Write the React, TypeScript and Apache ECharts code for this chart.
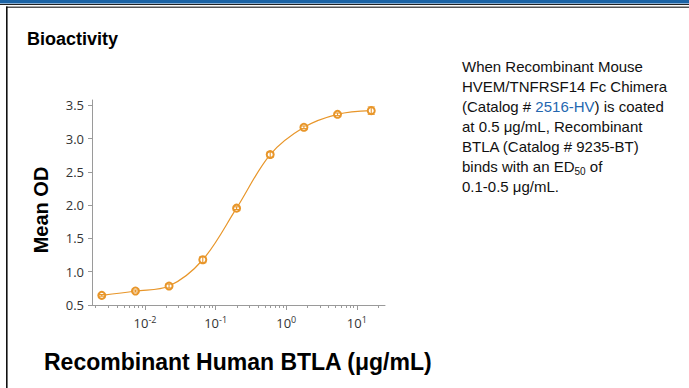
import React, { useEffect, useRef } from "react";
import * as echarts from "echarts";

const concentrations = [0.00244, 0.00732, 0.0219, 0.0658, 0.198, 0.593, 1.78, 5.33, 16.0];
const meanOD = [0.645, 0.71, 0.785, 1.18, 1.955, 2.76, 3.17, 3.365, 3.42];
const errOD = [0.012, 0.015, 0.03, 0.045, 0.02, 0.04, 0.02, 0.02, 0.055];

const yTicks = [0.5, 1.0, 1.5, 2.0, 2.5, 3.0, 3.5];
const xMajorTicks = [0.01, 0.1, 1, 10];
const xMinorTicks = [
  0.002, 0.003, 0.004, 0.005, 0.006, 0.007, 0.008, 0.009,
  0.01, 0.02, 0.03, 0.04, 0.05, 0.06, 0.07, 0.08, 0.09,
  0.1, 0.2, 0.3, 0.4, 0.5, 0.6, 0.7, 0.8, 0.9,
  1, 2, 3, 4, 5, 6, 7, 8, 9,
  10, 20,
];

const descLines = [
  "When Recombinant Mouse",
  "HVEM/TNFRSF14 Fc Chimera",
  "(Catalog # {link|2516-HV}) is coated",
  "at 0.5 μg/mL, Recombinant",
  "BTLA (Catalog # 9235-BT)",
  "binds with an ED{sub|50} of",
  "0.1-0.5 μg/mL.",
];

const ORANGE = "#E8962A";
const TICK_FONT = '"Open Sans", "Noto Sans", sans-serif';
const ARIAL = '"Liberation Sans", Arial, sans-serif';

export default function App() {
  const ref = useRef<HTMLDivElement>(null);
  useEffect(() => {
    if (!ref.current) return;
    const chart = echarts.init(ref.current, null, { renderer: "svg" });
    const xMin = 0.001774;
    const xMax = 25.06;

    const graphics: any[] = [
      { type: "rect", shape: { x: 0, y: 0, width: 689, height: 3.5 }, style: { fill: "#1B63A5" } },
      { type: "rect", shape: { x: 0, y: 4, width: 689, height: 1 }, style: { fill: "#222" } },
      { type: "rect", shape: { x: 6, y: 6.5, width: 683, height: 1.5 }, style: { fill: "#555" } },
      { type: "rect", shape: { x: 6, y: 6.5, width: 1.6, height: 382 }, style: { fill: "#111" } },
      {
        type: "text",
        x: 27,
        y: 39,
        style: { text: "Bioactivity", font: `bold 18px ${ARIAL}`, fill: "#000", verticalAlign: "middle", align: "left" },
      },
      {
        type: "text",
        x: 41,
        y: 210,
        rotation: Math.PI / 2,
        style: { text: "Mean OD", font: `bold 20px ${ARIAL}`, fill: "#000", align: "center", verticalAlign: "middle" },
      },
      {
        type: "text",
        x: 44,
        y: 362,
        style: {
          text: "Recombinant Human BTLA (μg/mL)",
          font: `bold 23px ${ARIAL}`,
          fill: "#000",
          align: "left",
          verticalAlign: "middle",
        },
      },
    ];
    descLines.forEach((line, i) => {
      graphics.push({
        type: "text",
        x: 462,
        y: 66 + i * 20.1,
        style: {
          text: line,
          font: `15px ${ARIAL}`,
          fill: "#111",
          align: "left",
          verticalAlign: "middle",
          rich: {
            link: { font: `15px ${ARIAL}`, fill: "#2467B0" },
            sub: { font: `10px ${ARIAL}`, fill: "#111", padding: [10, 0, 0, 0] },
          },
        },
      });
    });

    chart.setOption({
      animation: false,
      backgroundColor: "#fff",
      grid: { left: 92, right: 304, top: 100, bottom: 83 },
      xAxis: [
        {
          type: "log",
          logBase: 10,
          min: xMin,
          max: xMax,
          axisLine: { show: true, lineStyle: { color: "#9a9a9a", width: 1 } },
          axisTick: { show: true, length: 3, customValues: xMinorTicks, lineStyle: { color: "#9a9a9a" } },
          axisLabel: {
            show: true,
            customValues: xMajorTicks,
            margin: 10,
            formatter: (v: number) => `{b|10}{s|${Math.round(Math.log10(v))}}`,
            rich: {
              b: { fontSize: 13, fontFamily: TICK_FONT, color: "#333", lineHeight: 16 },
              s: { fontSize: 9, fontFamily: TICK_FONT, color: "#333", verticalAlign: "top", lineHeight: 10 },
            },
          },
          splitLine: { show: false },
        },
        {
          type: "log",
          logBase: 10,
          min: xMin,
          max: xMax,
          position: "bottom",
          axisLine: { show: false },
          axisTick: { show: true, length: 5, customValues: xMajorTicks, lineStyle: { color: "#9a9a9a" } },
          axisLabel: { show: false },
          splitLine: { show: false },
        },
      ],
      yAxis: {
        type: "value",
        min: 0.5,
        max: 3.58,
        interval: 0.5,
        axisLine: { show: true, lineStyle: { color: "#9a9a9a", width: 1 } },
        axisTick: { show: true, length: 4, customValues: yTicks, lineStyle: { color: "#9a9a9a" } },
        axisLabel: {
          customValues: yTicks,
          margin: 8,
          formatter: (v: number) => v.toFixed(1),
          fontSize: 13,
          fontFamily: TICK_FONT,
          color: "#333",
        },
        splitLine: { show: false },
      },
      graphic: graphics,
      series: [
        {
          type: "line",
          xAxisIndex: 0,
          data: concentrations.map((c, i) => [c, meanOD[i]]),
          smooth: 0.35,
          symbol: "emptyCircle",
          symbolSize: 7,
          lineStyle: { color: ORANGE, width: 1.2 },
          itemStyle: { color: ORANGE, borderColor: ORANGE, borderWidth: 1.2 },
          z: 3,
        },
        {
          type: "custom",
          xAxisIndex: 0,
          data: concentrations.map((c, i) => [c, meanOD[i], errOD[i]]),
          encode: { x: 0, y: 1 },
          renderItem: (params: any, api: any) => {
            const x = api.value(0);
            const y = api.value(1);
            const e = api.value(2);
            const top = api.coord([x, y + e]);
            const bot = api.coord([x, y - e]);
            const hw = 3.5;
            const st = { stroke: ORANGE, lineWidth: 1.1 };
            return {
              type: "group",
              children: [
                { type: "line", shape: { x1: top[0], y1: top[1], x2: bot[0], y2: bot[1] }, style: st },
                { type: "line", shape: { x1: top[0] - hw, y1: top[1], x2: top[0] + hw, y2: top[1] }, style: st },
                { type: "line", shape: { x1: bot[0] - hw, y1: bot[1], x2: bot[0] + hw, y2: bot[1] }, style: st },
              ],
            };
          },
          z: 4,
        },
      ],
    });
    return () => chart.dispose();
  }, []);
  return (
    <div
      ref={ref}
      style={{ position: "absolute", left: 0, top: 0, width: 689, height: 388, background: "#fff" }}
    />
  );
}
